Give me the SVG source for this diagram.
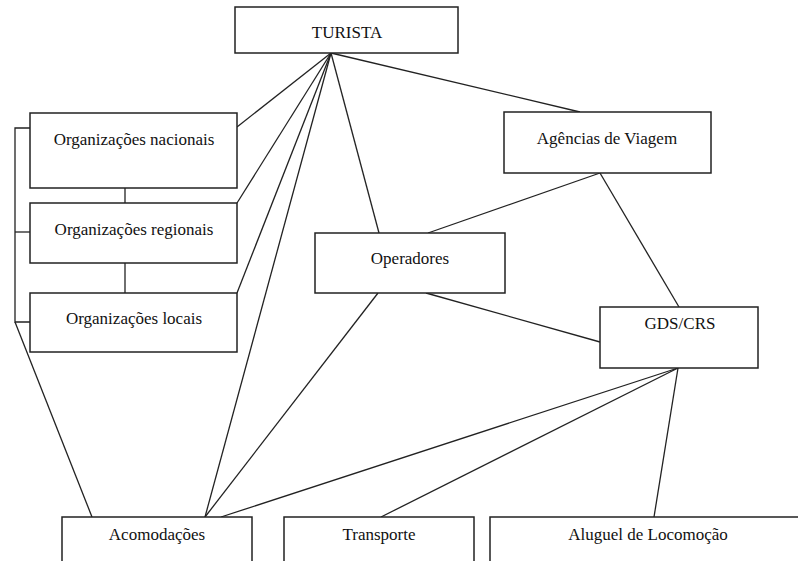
<svg xmlns="http://www.w3.org/2000/svg" width="798" height="561" viewBox="0 0 798 561">
<style>
.box{fill:#fff;stroke:#222;stroke-width:1.5}
.ln{stroke:#222;stroke-width:1.3;fill:none}
text{font-family:"Liberation Serif","DejaVu Serif",serif;font-size:17px;fill:#111;text-anchor:middle}
</style>
<rect width="798" height="561" fill="#fff"/>
<g id="connectors" class="ln">
<path d="M331,53 L237,127"/>
<path d="M331,53 L237,203"/>
<path d="M331,53 L237,293"/>
<path d="M331,53 L205,517"/>
<path d="M331,53 L379,233"/>
<path d="M331,53 L580,112"/>
<path d="M600,173 L428,233"/>
<path d="M600,173 L679,307"/>
<path d="M426,293 L600,342"/>
<path d="M378,293 L205,517"/>
<path d="M678,368 L221,517"/>
<path d="M678,368 L381,517"/>
<path d="M678,368 L654,517"/>
<path d="M125,188 L125,203"/>
<path d="M125,263 L125,293"/>
<path d="M30,128 L15,128 L15,322 L30,322"/>
<path d="M15,232 L30,232"/>
<path d="M15,322 L92,517"/>
</g>
<g id="turista"><rect class="box" x="235" y="7" width="223" height="46"/><text x="347" y="38">TURISTA</text></g>
<g id="org-nacionais"><rect class="box" x="30" y="113" width="207" height="75"/><text x="134" y="145">Organizações nacionais</text></g>
<g id="org-regionais"><rect class="box" x="30" y="203" width="207" height="60"/><text x="134" y="235">Organizações regionais</text></g>
<g id="org-locais"><rect class="box" x="30" y="293" width="207" height="59"/><text x="134" y="324">Organizações locais</text></g>
<g id="agencias"><rect class="box" x="504" y="112" width="207" height="61"/><text x="607" y="144">Agências de Viagem</text></g>
<g id="operadores"><rect class="box" x="315" y="233" width="190" height="60"/><text x="410" y="264">Operadores</text></g>
<g id="gds"><rect class="box" x="600" y="307" width="158" height="61"/><text x="680" y="329">GDS/CRS</text></g>
<g id="acomodacoes"><rect class="box" x="62" y="517" width="190" height="60"/><text x="157" y="540">Acomodações</text></g>
<g id="transporte"><rect class="box" x="284" y="517" width="190" height="60"/><text x="379" y="540">Transporte</text></g>
<g id="aluguel"><rect class="box" x="490" y="517" width="320" height="60"/><text x="648" y="540">Aluguel de Locomoção</text></g>
</svg>
